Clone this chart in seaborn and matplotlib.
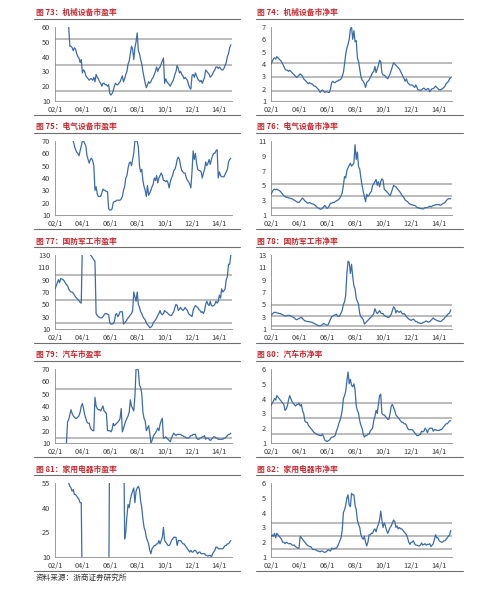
import numpy as np
import pandas as pd
import matplotlib
matplotlib.use("Agg")
import matplotlib.pyplot as plt
import seaborn as sns
from matplotlib.lines import Line2D

nan = float("nan")

# monthly grid 2002-01 .. 2014-11
months = 2002 + np.arange(155) / 12.0
xtick_years = [2002, 2004, 2006, 2008, 2010, 2012, 2014]
xtick_labels = ["02/1", "04/1", "06/1", "08/1", "10/1", "12/1", "14/1"]

titles = {
    73: "机械设备市盈率", 74: "机械设备市净率",
    75: "电气设备市盈率", 76: "电气设备市净率",
    77: "国防军工市盈率", 78: "国防军工市净率",
    79: "汽车市盈率", 80: "汽车市净率",
    81: "家用电器市盈率", 82: "家用电器市净率",
}
source_note = "资料来源：浙商证券研究所"

pe_mech = ([nan] * 12 +
    [60, 47, 47, 46, 44, 46, 45, 42, 40, 39, 36, 38] +
    [29, 31, 30, 27, 26, 25, 24, 25, 25, 24, 26, 23] +
    [28, 26, 25, 23, 22, 20, 22, 22, 21, 21, 20, 21] +
    [15, 14, 15, 17, 20, 22, 21, 21, 22, 23, 25, 27] +
    [23, 25, 28, 30, 35, 37, 42, 47, 45, 38, 46, 50] +
    [56, 44, 42, 38, 35, 30, 26, 22, 19, 21, 23, 22] +
    [23, 25, 26, 28, 30, 33, 30, 32, 33, 35, 37, 39] +
    [22, 25, 23, 22, 21, 20, 22, 23, 25, 28, 30, 34] +
    [32, 29, 30, 28, 27, 25, 26, 25, 24, 21, 19, 18] +
    [27, 28, 26, 29, 27, 25, 24, 23, 24, 22, 24, 26] +
    [31, 30, 29, 28, 26, 27, 28, 30, 31, 33, 33, 32] +
    [33, 32, 31, 31, 32, 34, 36, 40, 42, 46, 48])

pb_mech = ([4.0, 4.2, 4.4, 4.5, 4.4, 4.6, 4.5, 4.4, 4.3, 4.2, 4.0, 3.8] +
    [3.6, 3.5, 3.5, 3.4, 3.5, 3.4, 3.3, 3.2, 3.1, 3.0, 2.9, 3.0] +
    [3.1, 3.2, 3.1, 3.0, 2.8, 2.7, 2.6, 2.5, 2.4, 2.5, 2.4, 2.4] +
    [2.3, 2.2, 2.2, 2.1, 2.0, 1.9, 1.7, 1.8, 1.9, 1.8, 1.7, 1.75] +
    [1.75, 1.7, 1.7, 2.0, 2.5, 2.6, 2.5, 2.5, 2.6, 2.6, 2.7, 2.7] +
    [2.8, 3.0, 3.3, 4.0, 4.8, 5.3, 5.6, 6.0, 6.8, 7.0, 6.0, 6.7] +
    [5.8, 5.9, 4.5, 4.2, 3.6, 3.0, 2.7, 2.6, 2.4, 2.1, 2.5, 2.6] +
    [2.7, 2.9, 3.1, 3.3, 3.4, 3.8, 3.3, 3.6, 3.9, 4.3, 4.2, 3.3] +
    [3.1, 3.1, 3.0, 2.9, 2.8, 3.0, 3.2, 3.5, 3.8, 4.1, 4.0, 3.9] +
    [3.8, 3.7, 3.6, 3.4, 3.2, 3.0, 2.8, 2.6, 2.8, 2.5, 2.4, 2.3] +
    [2.3, 2.3, 2.2, 2.1, 2.3, 2.1, 1.9, 1.9, 1.85, 1.9, 2.0, 2.05] +
    [1.95, 1.9, 2.0, 2.0, 1.75, 1.9, 2.0, 2.0, 2.1, 2.2, 2.1, 2.0] +
    [1.9, 1.9, 1.95, 2.0, 2.1, 2.2, 2.4, 2.5, 2.6, 2.8, 2.9])

pe_elec = ([nan] * 12 +
    [nan, nan, nan, nan, 70, 66, 63, 61, 60, 58, 62, 66] +
    [70, 70, 68, 66, 58, 55, 52, 55, 56, 54, 50, 30] +
    [33, 27, 25, 25, 25, 28, 31, 30, 30, 29, 29, 15] +
    [14, 14, 15, 20, 21, 21, 22, 22, 22, 22, 23, 25] +
    [30, 33, 40, 42, 48, 52, 53, 50, 55, 60, 70, 70] +
    [70, 65, 50, 45, 47, 38, 33, 30, 25, 34, 26, 28] +
    [30, 33, 35, 40, 38, 42, 36, 40, 42, 44, 42, 38] +
    [38, 37, 38, 36, 32, 37, 40, 42, 46, 47, 50, 55] +
    [57, 55, 50, 46, 45, 44, 44, 40, 38, 37, 35, 32] +
    [45, 62, 55, 60, 52, 47, 46, 46, 45, 40, 44, 47] +
    [53, 50, 52, 55, 51, 55, 58, 60, 60, 62, 63, 40] +
    [45, 42, 41, 41, 41, 43, 45, 47, 53, 55, 56])

pb_elec = ([3.8, 4.1, 4.4, 4.5, 4.4, 4.5, 4.4, 4.3, 4.2, 4.0, 3.8, 3.6] +
    [3.5, 3.4, 3.4, 3.3, 3.3, 3.2, 3.2, 3.1, 3.0, 2.9, 2.8, 2.7] +
    [2.7, 2.9, 3.1, 3.3, 3.1, 2.9, 2.8, 2.6, 2.6, 2.7, 2.6, 2.5] +
    [2.5, 2.4, 2.3, 2.1, 2.0, 1.9, 1.8, 1.8, 1.9, 2.1, 2.3, 2.1] +
    [1.9, 2.0, 2.3, 2.6, 2.6, 2.7, 2.7, 2.8, 2.9, 3.0, 3.1, 3.3] +
    [3.6, 4.0, 5.0, 6.2, 6.0, 7.0, 7.4, 7.7, 8.0, 7.6, 7.8, 8.0] +
    [10.5, 8.5, 9.5, 7.5, 7.2, 6.0, 5.0, 4.2, 3.5, 2.8, 3.8, 3.5] +
    [3.7, 4.0, 4.2, 5.0, 5.2, 5.5, 5.8, 5.0, 5.5, 4.8, 5.5, 5.9] +
    [5.7, 4.5, 4.3, 4.2, 4.0, 3.8, 3.6, 4.0, 4.5, 5.0, 4.9, 4.8] +
    [4.6, 4.4, 4.2, 4.0, 3.7, 3.5, 3.3, 3.0, 2.9, 2.8, 2.6, 2.5] +
    [2.4, 2.4, 2.3, 2.3, 2.2, 2.0, 2.0, 1.9, 1.9, 1.85, 1.8, 1.9] +
    [2.0, 2.0, 2.0, 2.1, 2.2, 2.1, 2.2, 2.3, 2.3, 2.4, 2.4, 2.4] +
    [2.4, 2.3, 2.4, 2.5, 2.6, 2.7, 2.9, 3.1, 3.2, 3.2, 3.2])

pe_def = ([75, 80, 85, 90, 85, 92, 91, 90, 88, 85, 82, 80] +
    [75, 72, 70, 70, 68, 65, 62, 60, 58, 56, 53, 52] +
    [150, 150, 150, 150, 150, 150, 150, 130, 128, 125, 122, 120] +
    [35, 32, 30, 29, 28, 28, 30, 33, 35, 35, 34, 33] +
    [20, 18, 18, 19, 22, 33, 35, 30, 33, 38, 38, 38] +
    [18, 20, 22, 25, 28, 30, 33, 35, 40, 70, 62, 55] +
    [70, 50, 45, 38, 35, 30, 27, 25, 20, 17, 15, 12] +
    [13, 15, 20, 22, 25, 28, 32, 35, 40, 35, 33, 35] +
    [40, 38, 37, 35, 33, 32, 32, 35, 38, 45, 50, 48] +
    [40, 42, 45, 42, 40, 42, 45, 42, 40, 35, 33, 32] +
    [30, 40, 45, 48, 46, 45, 42, 40, 37, 38, 35, 40] +
    [50, 55, 50, 48, 55, 48, 47, 48, 50, 55, 52, 55] +
    [65, 60, 75, 70, 72, 75, 90, 95, 115, 115, 130])

pb_def = ([3.2, 3.4, 3.6, 3.7, 3.7, 3.6, 3.6, 3.5, 3.5, 3.4, 3.3, 3.2] +
    [3.1, 3.1, 3.2, 3.2, 3.2, 3.1, 3.0, 2.9, 2.8, 2.6, 2.5, 2.6] +
    [2.7, 2.8, 2.9, 2.7, 2.5, 2.3, 2.3, 2.2, 2.2, 2.2, 2.1, 2.1] +
    [2.0, 1.9, 1.8, 1.7, 1.6, 1.5, 1.5, 1.6, 1.7, 1.9, 1.8, 1.7] +
    [1.6, 1.7, 2.2, 2.6, 3.0, 3.1, 3.2, 3.3, 3.4, 3.1, 3.0, 3.2] +
    [3.6, 4.0, 5.0, 5.4, 6.5, 10.0, 12.0, 11.8, 10.0, 11.5, 9.5, 8.0] +
    [7.5, 6.0, 5.5, 5.0, 3.5, 3.0, 2.8, 2.5, 1.8, 2.0, 2.2, 2.4] +
    [2.6, 2.8, 3.0, 3.2, 3.5, 4.3, 3.8, 3.5, 3.7, 4.0, 3.6, 3.5] +
    [3.5, 3.2, 3.1, 3.0, 2.9, 2.9, 3.1, 3.4, 4.0, 4.6, 4.4, 3.6] +
    [4.0, 3.8, 3.7, 3.9, 3.6, 3.4, 3.5, 3.3, 3.0, 2.8, 2.6, 2.5] +
    [2.4, 2.5, 2.6, 2.4, 2.2, 2.2, 2.0, 2.0, 1.9, 1.9, 2.0, 2.1] +
    [2.2, 2.3, 2.2, 2.1, 2.2, 2.4, 2.6, 2.8, 2.6, 2.5, 2.4, 2.3] +
    [2.3, 2.2, 2.3, 2.5, 2.6, 2.9, 3.0, 3.3, 3.5, 3.6, 4.1])

pe_auto = ([nan] * 10 + [10, 27] +
    [29, 33, 37, 34, 32, 31, 30, 30, 31, 32, 35, 40] +
    [42, 38, 33, 30, 27, 26, 26, 22, 21, 20, 20, 47] +
    [40, 38, 37, 37, 36, 38, 40, 36, 35, 34, 20, 20] +
    [20, 19, 21, 26, 24, 25, 26, 27, 28, 30, 38, 19] +
    [22, 25, 28, 30, 32, 35, 45, 40, 38, 36, 48, 70] +
    [70, 69, 57, 55, 50, 35, 30, 28, 20, 22, 24, 18] +
    [10, 12, 15, 17, 18, 20, 22, 20, 25, 28, 30, 14] +
    [14, 15, 14, 13, 12, 11, 14, 16, 18, 17, 16, 17] +
    [17, 17, 17, 16, 16, 15, 15, 14, 14, 14, 15, 16] +
    [16, 17, 17, 17, 14, 13, 13, 14, 14, 15, 15, 16] +
    [13, 14, 14, 13, 12, 13, 14, 15, 15, 14, 14, 13] +
    [13, 13, 13, 13, 14, 14, 15, 16, 17, 17, 18])

pb_auto = ([3.5, 3.7, 3.8, 4.0, 3.9, 4.2, 4.1, 4.0, 3.9, 3.8, 3.7, 3.6] +
    [3.2, 3.3, 3.5, 3.9, 4.2, 4.0, 3.8, 3.7, 3.6, 3.5, 3.6, 3.6] +
    [3.7, 3.5, 3.6, 3.2, 3.0, 2.5, 2.4, 2.4, 2.2, 2.1, 2.0, 1.9] +
    [1.8, 1.7, 1.65, 1.6, 1.55, 1.55, 1.5, 1.5, 1.6, 1.45, 1.2, 1.15] +
    [1.1, 1.15, 1.2, 1.3, 1.4, 1.4, 1.45, 1.5, 1.8, 2.0, 2.3, 2.5] +
    [2.8, 3.2, 4.0, 4.2, 4.5, 5.2, 5.8, 5.0, 5.3, 4.9, 4.8, 5.0] +
    [4.6, 3.5, 3.2, 3.0, 2.5, 2.2, 2.0, 1.6, 1.4, 1.5, 1.5, 1.6] +
    [1.6, 1.8, 1.9, 2.0, 2.5, 2.8, 3.2, 3.0, 3.6, 4.2, 4.3, 3.0] +
    [2.9, 2.9, 2.8, 2.7, 2.6, 2.6, 3.0, 3.5, 3.6, 3.4, 3.2, 2.9] +
    [2.8, 2.7, 2.6, 2.5, 2.4, 2.4, 2.3, 2.3, 2.2, 2.0, 1.9, 1.9] +
    [1.9, 1.9, 1.8, 1.7, 1.6, 1.5, 1.5, 1.55, 1.6, 1.8, 1.75, 1.8] +
    [2.0, 1.9, 1.7, 1.9, 2.0, 2.0, 2.0, 1.8, 1.9, 1.9, 1.85, 1.85] +
    [1.85, 1.9, 1.9, 2.0, 2.1, 2.2, 2.3, 2.3, 2.4, 2.5, 2.5])

pe_home = ([nan] * 12 +
    [55, 53, 52, 50, 51, 48, 48, 47, 46, 45, 43, 43] +
    [-20] * 12 +
    [-20] * 12 +
    [100] * 12 +
    [100, 21, 25, 35, 42, 40, 45, 48, 50, 52, 43, 50] +
    [52, 53, 51, 44, 40, 33, 28, 26, 22, 20, 18, 14] +
    [12, 15, 16, 17, 17, 18, 18, 20, 18, 20, 22, 28] +
    [20, 19, 18, 17, 17, 18, 20, 21, 22, 22, 22, 17] +
    [20, 20, 20, 19, 18, 18, 17, 16, 15, 14, 13, 14] +
    [13, 13, 14, 14, 13, 12, 13, 13, 12, 12, 12, 12] +
    [11, 11, 10.5, 11, 11, 10, 12, 13, 14, 16, 16, 15] +
    [15, 15, 15, 15, 16, 17, 17, 18, 18, 19, 20])

pb_home = ([2.4, 2.5, 2.4, 2.6, 2.3, 2.6, 2.5, 2.4, 2.3, 2.2, 2.0, 2.0] +
    [1.9, 2.0, 1.95, 1.9, 1.9, 1.9, 1.8, 1.8, 1.8, 1.7, 1.65, 1.6] +
    [1.6, 2.4, 2.3, 2.2, 2.1, 2.0, 1.9, 1.8, 1.75, 1.7, 1.7, 1.6] +
    [1.5, 1.5, 1.5, 1.45, 1.4, 1.4, 1.35, 1.4, 1.4, 1.35, 1.3, 1.35] +
    [1.4, 1.5, 1.45, 1.4, 1.6, 1.55, 1.55, 1.6, 1.6, 1.7, 1.9, 2.1] +
    [2.3, 2.8, 4.0, 4.2, 4.5, 5.0, 5.2, 4.5, 4.4, 5.3, 5.2, 5.2] +
    [4.5, 4.2, 3.5, 3.2, 3.0, 2.5, 2.3, 2.2, 2.4, 2.0, 1.75, 2.0] +
    [2.5, 2.5, 2.6, 2.6, 2.8, 2.9, 2.7, 3.0, 3.2, 3.5, 4.1, 3.5] +
    [3.0, 3.3, 3.1, 2.8, 2.6, 2.8, 3.0, 3.1, 3.3, 3.5, 3.4, 3.0] +
    [3.1, 2.9, 3.0, 2.9, 2.9, 2.8, 2.7, 2.6, 2.5, 2.3, 2.0, 1.85] +
    [2.0, 2.0, 2.1, 1.9, 1.8, 1.8, 1.75, 1.75, 1.8, 1.95, 1.8, 1.85] +
    [1.9, 1.8, 1.85, 1.85, 1.9, 1.7, 1.8, 1.9, 2.2, 2.5, 2.3, 2.3] +
    [2.1, 2.05, 2.0, 2.0, 2.1, 2.1, 2.2, 2.3, 2.4, 2.5, 2.8])

series = {73: pe_mech, 74: pb_mech, 75: pe_elec, 76: pb_elec, 77: pe_def,
          78: pb_def, 79: pe_auto, 80: pb_auto, 81: pe_home, 82: pb_home}

yticks = {
    73: [10, 20, 30, 40, 50, 60], 74: [1, 2, 3, 4, 5, 6, 7],
    75: [10, 20, 30, 40, 50, 60, 70], 76: [1, 3, 5, 7, 9, 11],
    77: [10, 30, 50, 70, 90, 110, 130], 78: [1, 3, 5, 7, 9, 11, 13],
    79: [10, 20, 30, 40, 50, 60, 70], 80: [1, 2, 3, 4, 5, 6],
    81: [10, 25, 40, 55], 82: [1, 2, 3, 4, 5, 6],
}

# mean and +/- 1 std reference levels
ref_levels = {
    73: [51.6, 34.0, 16.8], 74: [4.12, 2.97, 1.85], 75: [],
    76: [5.2, 3.56, 2.0], 77: [97, 57, 19], 78: [4.97, 3.17, 1.43],
    79: [53.8, 14.0], 80: [3.67, 2.67, 1.62], 81: [], 82: [3.32, 2.43, 1.54],
}

# ---------------- drawing ----------------
sns.set_style("white")
plt.rcParams['font.family'] = ['Noto Sans CJK SC', 'DejaVu Sans']

W, H = 500, 591
fig = plt.figure(figsize=(W / 100, H / 100), dpi=100)

LINE_C = "#3C6CA9"
REF_C = "#a8a8a8"
AX_C = "#8c8c8c"
TITLE_C = "#C62A30"
RULE_C = "#6e6e6e"

col_x = {0: (55, 232), 1: (271, 452)}
title_x = {0: 36, 1: 257}
rule_x = {0: (34, 240), 1: (256, 463)}
row_top = [27, 141, 255, 369, 483]
AX_H = 74


def fx(x):
    return x / W


def fy(y):
    return 1 - y / H


nums = [73, 74, 75, 76, 77, 78, 79, 80, 81, 82]
for k, num in enumerate(nums):
    row, col = divmod(k, 2)
    x0, x1 = col_x[col]
    top = row_top[row]
    bot = top + AX_H
    ax = fig.add_axes([fx(x0), fy(bot), fx(x1 - x0), (bot - top) / H])
    vals = series[num]
    df = pd.DataFrame({"t": months[:len(vals)], "v": vals}).dropna()
    for lv in ref_levels[num]:
        ax.axhline(lv, color=REF_C, lw=1.1, zorder=1)
    sns.lineplot(data=df, x="t", y="v", ax=ax, color=LINE_C, lw=0.9,
                 estimator=None, sort=False, zorder=3)
    yt = yticks[num]
    ax.set_ylim(yt[0], yt[-1])
    ax.set_yticks(yt)
    ax.set_yticklabels([str(v) for v in yt])
    ax.set_xlim(2002, 2014.92)
    ax.set_xticks(xtick_years)
    ax.set_xticklabels(xtick_labels)
    ax.set_xlabel("")
    ax.set_ylabel("")
    for s in ["top", "right"]:
        ax.spines[s].set_visible(False)
    for s in ["left", "bottom"]:
        ax.spines[s].set_color(AX_C)
        ax.spines[s].set_linewidth(0.6)
    ax.tick_params(axis="both", direction="out", length=2, width=0.5,
                   color=AX_C, labelsize=5.3, labelcolor="#3a3a3a", pad=1.5)
    ax.set_facecolor("none")

    # title and rules
    fig.text(fx(title_x[col]), fy(top - 14), f"图 {num}：{titles[num]}",
             color=TITLE_C, fontsize=5.6, fontweight="bold",
             ha="left", va="center")
    rx0, rx1 = rule_x[col]
    fig.add_artist(Line2D([fx(rx0), fx(rx1)], [fy(top - 8)] * 2,
                          transform=fig.transFigure, color=RULE_C, lw=0.8))
    fig.add_artist(Line2D([fx(rx0), fx(rx1)], [fy(bot + 14)] * 2,
                          transform=fig.transFigure, color=RULE_C, lw=0.8))

fig.text(fx(36), fy(578), source_note, fontsize=5.5, color="#333333",
         ha="left", va="center")

fig.savefig("out.png", dpi=100)
